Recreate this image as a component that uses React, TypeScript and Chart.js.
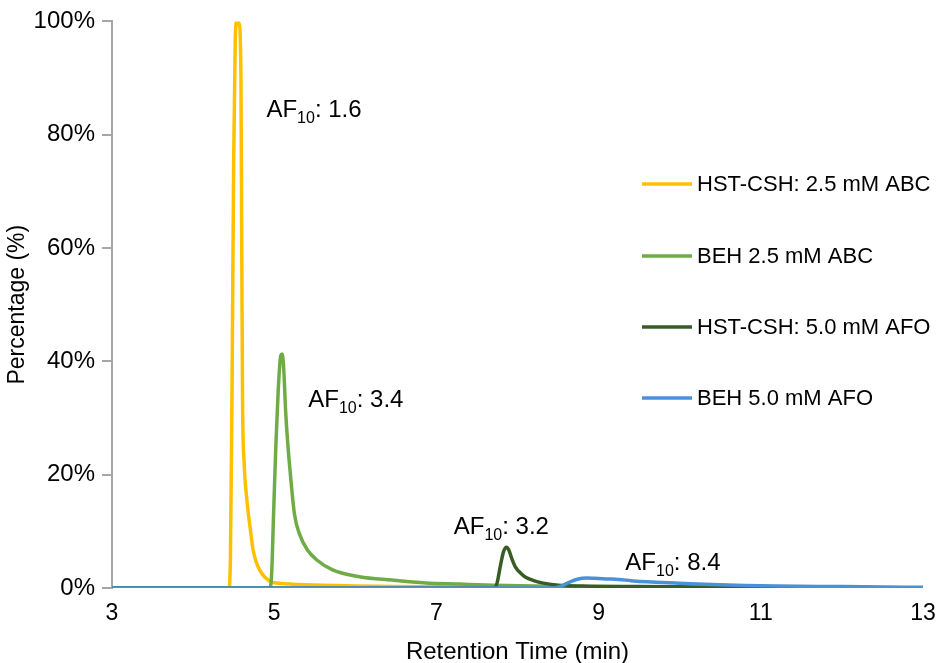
import { useEffect, useRef } from 'react';
import { Chart, registerables } from 'chart.js';

Chart.register(...registerables);

const FONT = '"Liberation Sans", Arial, Helvetica, sans-serif';

const seriesLabels = ['HST-CSH: 2.5 mM ABC', 'BEH 2.5 mM ABC', 'HST-CSH: 5.0 mM AFO', 'BEH 5.0 mM AFO'];
const seriesColors = ['#FFC000', '#6FAC46', '#385D24', '#4A92D8'];

// HST-CSH: 2.5 mM ABC
const hstAbcTime = [3, 4.0, 4.44, 4.46, 4.48, 4.50, 4.52, 4.54, 4.57, 4.59, 4.60, 4.61, 4.63, 4.66, 4.70, 4.74, 4.78, 4.82, 4.88, 4.98, 5.1, 5.3, 5.6, 6.0, 6.5, 7.0, 8.0, 9.0, 10, 13];
const hstAbcPct = [0, 0, 0, 5, 35, 75, 97, 100, 99.5, 90, 60, 33, 22, 16, 11, 6.7, 4.5, 3.2, 2, 1.0, 0.8, 0.6, 0.5, 0.35, 0.25, 0.2, 0.1, 0.05, 0, 0];

// BEH 2.5 mM ABC
const behAbcTime = [3, 4.9, 4.95, 4.97, 4.99, 5.02, 5.05, 5.08, 5.10, 5.12, 5.14, 5.17, 5.20, 5.25, 5.31, 5.41, 5.53, 5.72, 6.05, 6.45, 6.87, 7.28, 7.7, 8.2, 9.0, 10, 11, 13];
const behAbcPct = [0, 0, 0, 3, 12, 25, 35, 41, 41.3, 38, 31.5, 25, 20, 13, 9.6, 6.7, 4.9, 3.2, 2.0, 1.4, 0.9, 0.7, 0.5, 0.35, 0.2, 0.1, 0.05, 0];

// HST-CSH: 5.0 mM AFO
const hstAfoTime = [3, 7.72, 7.75, 7.79, 7.83, 7.865, 7.89, 7.93, 7.975, 8.04, 8.10, 8.2, 8.3, 8.5, 8.8, 9.5, 10, 11, 13];
const hstAfoPct = [0, 0, 1, 4, 6.5, 7.2, 6.8, 5.2, 3.7, 2.6, 1.9, 1.3, 0.9, 0.5, 0.35, 0.25, 0.2, 0.1, 0];

// BEH 5.0 mM AFO
const behAfoTime = [3, 8.45, 8.55, 8.65, 8.75, 8.85, 8.95, 9.1, 9.25, 9.4, 9.6, 10.0, 10.4, 10.8, 11.2, 12, 12.8, 13];
const behAfoPct = [0, 0, 0.4, 1.1, 1.6, 1.75, 1.7, 1.6, 1.5, 1.3, 1.1, 0.85, 0.6, 0.45, 0.35, 0.25, 0.15, 0.15];

const seriesTimes = [hstAbcTime, behAbcTime, hstAfoTime, behAfoTime];
const seriesPcts = [hstAbcPct, behAbcPct, hstAfoPct, behAfoPct];

// Asymmetry-factor annotations (anchor in data units: left edge, vertical centre)
const annotationX = [4.904, 5.42, 7.214, 9.33];
const annotationY = [84.6, 33.4, 11.0, 4.7];
const annotationValues = ['1.6', '3.4', '3.2', '8.4'];

const legendRowY = [184, 256, 327, 398];

const annotationPlugin = {
  id: 'afAnnotations',
  afterDatasetsDraw(chart: any) {
    const { ctx, scales } = chart;
    ctx.save();
    ctx.fillStyle = '#000';
    ctx.textBaseline = 'alphabetic';
    ctx.textAlign = 'left';
    annotationX.forEach((xv, i) => {
      const px = scales.x.getPixelForValue(xv);
      const py = scales.y.getPixelForValue(annotationY[i]);
      const main = 24;
      const base = py + main * 0.36;
      ctx.font = `${main}px ${FONT}`;
      ctx.fillText('AF', px, base);
      let w = ctx.measureText('AF').width;
      ctx.font = `16px ${FONT}`;
      ctx.fillText('10', px + w, base + 6);
      w += ctx.measureText('10').width;
      ctx.font = `${main}px ${FONT}`;
      ctx.fillText(': ' + annotationValues[i], px + w, base);
    });
    ctx.restore();
  },
};

const legendPlugin = {
  id: 'insideLegend',
  afterDraw(chart: any) {
    const { ctx } = chart;
    ctx.save();
    chart.data.datasets.forEach((ds: any, i: number) => {
      const y = legendRowY[i];
      ctx.strokeStyle = ds.borderColor;
      ctx.lineWidth = 3.5;
      ctx.lineCap = 'butt';
      ctx.beginPath();
      ctx.moveTo(642, y);
      ctx.lineTo(692, y);
      ctx.stroke();
      ctx.fillStyle = '#000';
      ctx.font = `22px ${FONT}`;
      ctx.textBaseline = 'middle';
      ctx.textAlign = 'left';
      ctx.fillText(ds.label, 697, y + 1);
    });
    ctx.restore();
  },
};

export default function App() {
  const canvasRef = useRef<HTMLCanvasElement | null>(null);

  useEffect(() => {
    document.body.style.margin = '0';
    const canvas = canvasRef.current;
    if (!canvas) return;
    const drawOrder = [3, 2, 1, 0];
    const chart = new Chart(canvas, {
      type: 'line',
      data: {
        datasets: seriesLabels.map((label, i) => ({
          label,
          data: seriesTimes[i].map((t, j) => ({ x: t, y: seriesPcts[i][j] })),
          borderColor: seriesColors[i],
          backgroundColor: seriesColors[i],
          borderWidth: 3.5,
          pointRadius: 0,
          fill: false,
          cubicInterpolationMode: 'monotone' as const,
          order: drawOrder[i],
        })),
      },
      options: {
        animation: false,
        responsive: true,
        maintainAspectRatio: false,
        layout: { padding: { top: 17, right: 10, bottom: 0, left: 0 } },
        plugins: {
          legend: { display: false },
          tooltip: { enabled: false },
        },
        scales: {
          x: {
            type: 'linear',
            min: 3,
            max: 13,
            grid: { display: false },
            border: { display: false },
            ticks: {
              stepSize: 2,
              padding: 4,
              color: '#000',
              font: { family: FONT, size: 23 },
            },
            title: {
              display: true,
              text: 'Retention Time (min)',
              color: '#000',
              font: { family: FONT, size: 24 },
              padding: { top: 0, bottom: -4 },
            },
            afterFit: (scale: any) => {
              scale.height = 75;
              scale.paddingRight = 13;
              scale.paddingLeft = 0;
            },
          },
          y: {
            min: 0,
            max: 100,
            grid: {
              display: true,
              drawOnChartArea: false,
              drawTicks: true,
              tickLength: 10,
              color: '#A6A6A6',
              lineWidth: 2,
            },
            border: { display: true, color: '#A6A6A6', width: 2 },
            ticks: {
              stepSize: 20,
              padding: 7,
              color: '#000',
              font: { family: FONT, size: 24 },
              callback: (v: any) => v + '%',
            },
            title: {
              display: true,
              text: 'Percentage (%)',
              color: '#000',
              font: { family: FONT, size: 23 },
              padding: { top: 4, bottom: 0 },
            },
            afterFit: (scale: any) => {
              scale.width = 112;
            },
          },
        },
      },
      plugins: [annotationPlugin, legendPlugin],
    });
    return () => chart.destroy();
  }, []);

  return (
    <div style={{ position: 'relative', width: 936, height: 663 }}>
      <canvas ref={canvasRef} />
    </div>
  );
}
